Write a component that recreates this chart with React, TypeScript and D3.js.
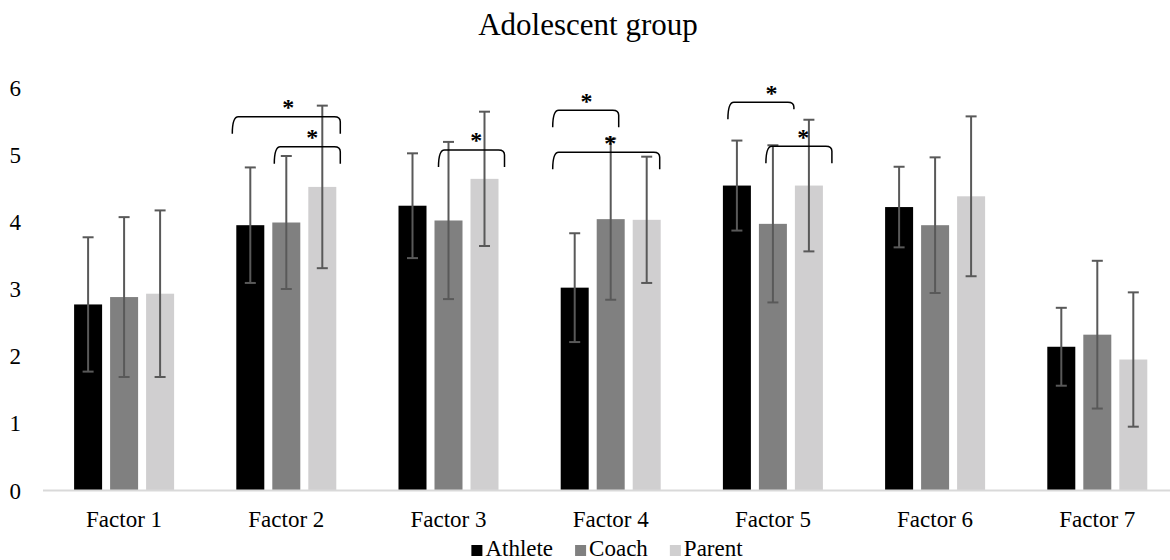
import React, { useEffect, useRef } from "react";
import * as d3 from "d3";

const categories = ["Factor 1", "Factor 2", "Factor 3", "Factor 4", "Factor 5", "Factor 6", "Factor 7"];
const seriesNames = ["Athlete", "Coach", "Parent"];
const seriesColors = ["#000000", "#808080", "#d0cfd0"];

const athleteMean = [2.77, 3.95, 4.24, 3.02, 4.54, 4.22, 2.14];
const coachMean = [2.88, 3.99, 4.02, 4.04, 3.97, 3.95, 2.32];
const parentMean = [2.93, 4.52, 4.64, 4.03, 4.54, 4.38, 1.95];

const athleteSD = [1.0, 0.86, 0.78, 0.81, 0.67, 0.6, 0.58];
const coachSD = [1.19, 0.99, 1.17, 1.2, 1.17, 1.01, 1.1];
const parentSD = [1.24, 1.21, 1.0, 0.94, 0.98, 1.19, 1.0];

const yTicks = [0, 1, 2, 3, 4, 5, 6];

// significance brackets: factor index, from series, to series, level (y units)
const brackets = [
  { cat: 1, from: 0, to: 2, level: 5.565, dx1: -3, dx2: 3, sdx: 2, legR: 17 },
  { cat: 1, from: 1, to: 2, level: 5.118, dx1: 3, dx2: 3, sdx: 5, legR: 17 },
  { cat: 2, from: 1, to: 2, level: 5.07, dx1: 5, dx2: 5, sdx: 4.7, legR: 17 },
  { cat: 3, from: 0, to: 1, level: 5.66, dx1: -7, dx2: -7, sdx: 0.7, legR: 17 },
  { cat: 3, from: 0, to: 2, level: 5.035, dx1: -7, dx2: -2, sdx: 4, legR: 17 },
  { cat: 4, from: 0, to: 1, level: 5.78, dx1: 6, dx2: 6, sdx: 10.7, legR: 7 },
  { cat: 4, from: 1, to: 2, level: 5.125, dx1: 8, dx2: 8, sdx: 4.3, legR: 17 },
];

const W = 1170;
const H = 560;
const FONT = "'Liberation Serif', 'Times New Roman', serif";

export default function App() {
  const ref = useRef<SVGSVGElement | null>(null);

  useEffect(() => {
    const svg = d3.select(ref.current);
    svg.selectAll("*").remove();

    const means = [athleteMean, coachMean, parentMean];
    const sds = [athleteSD, coachSD, parentSD];

    const x0 = d3.scaleBand<string>().domain(categories).range([43, 43 + 7 * 162.2]).paddingInner(0).paddingOuter(0);
    const groupW = 100;
    const x1 = d3.scaleBand<string>().domain(seriesNames).range([0, groupW]).paddingInner(8 / 36).paddingOuter(0);
    const y = d3.scaleLinear().domain([0, 6]).range([490.5, 87.5]);
    const bw = x1.bandwidth();

    const barX = (ci: number, si: number) =>
      (x0(categories[ci]) as number) + x0.bandwidth() / 2 - groupW / 2 + (x1(seriesNames[si]) as number);

    svg.append("rect").attr("width", W).attr("height", H).attr("fill", "#ffffff");

    // title
    svg.append("text")
      .attr("x", 588).attr("y", 35)
      .attr("text-anchor", "middle")
      .attr("font-family", FONT).attr("font-size", 31).attr("fill", "#000")
      .text("Adolescent group");

    // y tick labels
    svg.append("g").selectAll("text").data(yTicks).join("text")
      .attr("x", 21).attr("y", (d) => y(d))
      .attr("dy", "0.35em")
      .attr("text-anchor", "end")
      .attr("font-family", FONT).attr("font-size", 23).attr("fill", "#000")
      .text((d) => d3.format("d")(d));

    // bars
    seriesNames.forEach((s, si) => {
      svg.append("g").selectAll("rect").data(means[si]).join("rect")
        .attr("x", (_d, ci) => barX(ci, si))
        .attr("y", (d) => y(d))
        .attr("width", bw)
        .attr("height", (d) => y(0) - y(d))
        .attr("fill", seriesColors[si]);
    });

    // axis line
    svg.append("line")
      .attr("x1", 43).attr("x2", W + 10)
      .attr("y1", y(0)).attr("y2", y(0))
      .attr("stroke", "#d9d9d9").attr("stroke-width", 2);

    // error bars
    seriesNames.forEach((s, si) => {
      const g = svg.append("g").attr("stroke", "#595959").attr("stroke-width", 2);
      means[si].forEach((m, ci) => {
        const cx = barX(ci, si) + bw / 2;
        const hi = y(m + sds[si][ci]);
        const lo = y(m - sds[si][ci]);
        g.append("line").attr("x1", cx).attr("x2", cx).attr("y1", hi).attr("y2", lo);
        g.append("line").attr("x1", cx - 5.5).attr("x2", cx + 5.5).attr("y1", hi).attr("y2", hi);
        g.append("line").attr("x1", cx - 5.5).attr("x2", cx + 5.5).attr("y1", lo).attr("y2", lo);
      });
    });

    // brackets
    const bg = svg.append("g");
    brackets.forEach((b) => {
      const xa = barX(b.cat, b.from) + b.dx1;
      const xb = barX(b.cat, b.to) + bw + b.dx2;
      const yt = y(b.level);
      const leg = 17;
      const r = 5;
      const p = d3.path();
      p.moveTo(xa - 1, yt + leg);
      p.quadraticCurveTo(xa - 1, yt, xa + r, yt);
      p.lineTo(xb - r, yt);
      p.quadraticCurveTo(xb + 1, yt, xb + 1, yt + Math.min(r, b.legR));
      p.lineTo(xb + 1, yt + b.legR);
      bg.append("path").attr("d", p.toString()).attr("fill", "none").attr("stroke", "#000").attr("stroke-width", 1.5);
      bg.append("text")
        .attr("x", (xa + xb) / 2 + b.sdx)
        .attr("y", yt - 1.7)
        .attr("text-anchor", "middle")
        .attr("font-family", FONT).attr("font-size", 24).attr("font-weight", "bold").attr("fill", "#000")
        .text("*");
    });

    // x labels
    svg.append("g").selectAll("text").data(categories).join("text")
      .attr("x", (d) => (x0(d) as number) + x0.bandwidth() / 2)
      .attr("y", 526.7)
      .attr("text-anchor", "middle")
      .attr("font-family", FONT).attr("font-size", 23).attr("fill", "#000")
      .text((d) => d);

    // legend
    const lg = svg.append("g");
    const sq = 11;
    const gap = 3;
    const itemGap = 22;
    const items: { g: any; w: number }[] = [];
    seriesNames.forEach((s, si) => {
      const g = lg.append("g");
      g.append("rect").attr("x", 0).attr("y", -sq).attr("width", sq).attr("height", sq).attr("fill", seriesColors[si]);
      const t = g.append("text").attr("x", sq + gap).attr("y", 0)
        .attr("font-family", FONT).attr("font-size", 23).attr("fill", "#000").text(s);
      const tw = (t.node() as SVGTextElement).getComputedTextLength();
      items.push({ g, w: sq + gap + tw });
    });
    const total = d3.sum(items, (d) => d.w) + itemGap * (items.length - 1);
    let cur = 607 - total / 2;
    items.forEach((it) => {
      it.g.attr("transform", `translate(${cur},556)`);
      cur += it.w + itemGap;
    });
  }, []);

  return (
    <svg
      ref={ref}
      width={W}
      height={H}
      style={{ position: "absolute", left: 0, top: 0, display: "block" }}
    />
  );
}
